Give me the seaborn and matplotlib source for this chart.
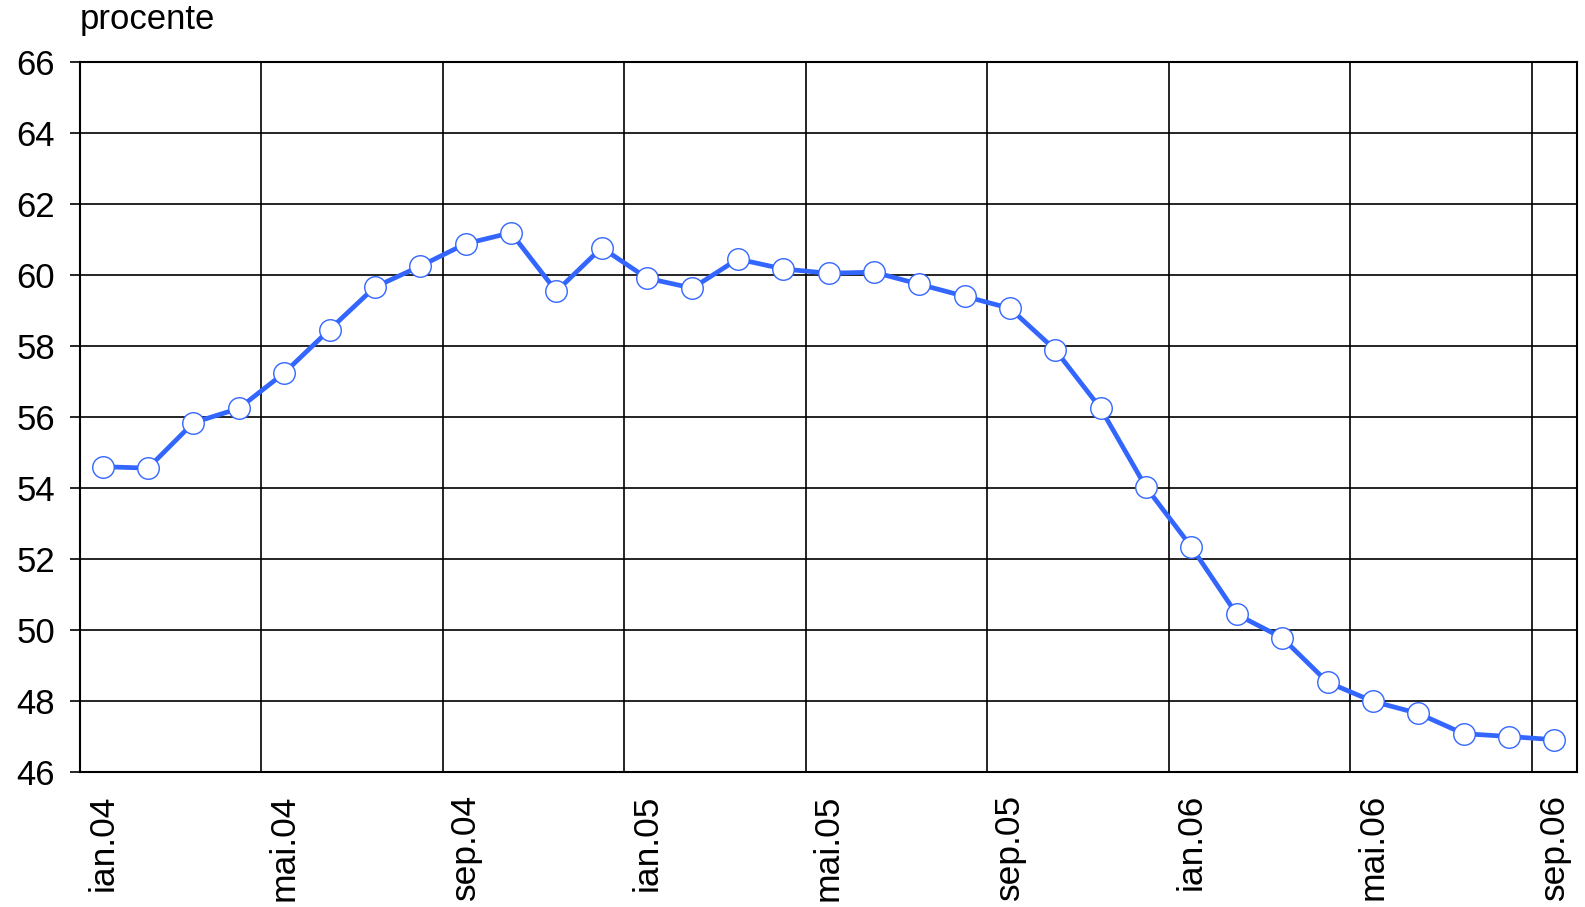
import matplotlib
matplotlib.use("Agg")
import matplotlib.pyplot as plt
import seaborn as sns
import pandas as pd
import numpy as np

months = ["ian", "feb", "mar", "apr", "mai", "iun", "iul", "aug", "sep", "oct", "nov", "dec"]
categories = [f"{m}.{y:02d}" for y in (4, 5, 6) for m in months][:33]
values = [54.6, 54.56, 55.84, 56.24, 57.24, 58.46, 59.66, 60.25, 60.88, 61.19, 59.54, 60.77,
          59.91, 59.63, 60.45, 60.17, 60.05, 60.08, 59.74, 59.40, 59.06, 57.89, 56.24, 54.02,
          52.34, 50.44, 49.78, 48.53, 47.99, 47.65, 47.08, 47.00, 46.91]
y_ticks = list(range(46, 67, 2))

sns.set_theme(style="white")
plt.rcParams['font.family'] = ['Liberation Sans', 'DejaVu Sans']
plt.rcParams['text.color'] = 'black'
plt.rcParams['xtick.color'] = 'black'
plt.rcParams['ytick.color'] = 'black'

df = pd.DataFrame({"idx": np.arange(len(values)), "val": values, "cat": categories})

W, H = 1585, 907
L, R, T, B = 80, 1577, 62, 772
fig = plt.figure(figsize=(W / 100, H / 100), dpi=100)
ax = fig.add_axes([L / W, 1 - B / H, (R - L) / W, (B - T) / H])

sns.lineplot(data=df, x="idx", y="val", ax=ax, color="#3366ff", linewidth=3.4,
             marker="o", markersize=15.5, markerfacecolor="white", markeredgecolor="#3366ff",
             markeredgewidth=1.0, zorder=3)

ax.set_xlim(-0.5, len(values) - 0.5)
ax.set_ylim(46, 66)
ax.set_yticks(y_ticks)
ax.set_yticklabels([str(t) for t in y_ticks], fontsize=25, color="black")
tick_idx = list(range(0, len(values), 4))
ax.set_xticks(tick_idx)
ax.set_xticklabels([categories[i] for i in tick_idx], rotation=90, fontsize=25.5, color="black")
ax.grid(False)
for t in y_ticks:
    ax.axhline(t, color="black", linewidth=1.2, zorder=1)
for i in tick_idx:
    ax.axvline(i - 0.5, color="black", linewidth=1.2, zorder=1)
ax.tick_params(axis="y", length=7, width=1.2, color="black", left=True, pad=11)
ax.tick_params(axis="x", length=0, pad=16)
for s in ax.spines.values():
    s.set_visible(True)
    s.set_color("black")
    s.set_linewidth(1.5)
ax.set_xlabel("")
ax.set_ylabel("")
fig.text(L / W, 1 - 20 / H, "procente", fontsize=25, ha="left", va="center", color="black")

fig.savefig("out.png", dpi=100, facecolor="white")
